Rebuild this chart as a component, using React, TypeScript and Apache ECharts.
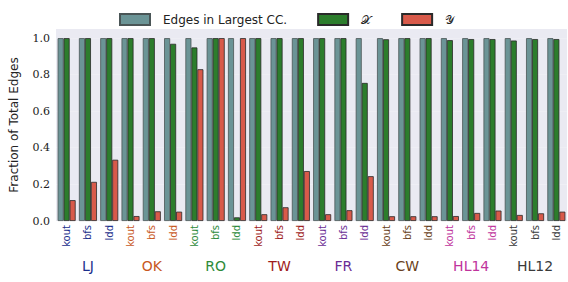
import React, { useEffect, useRef } from "react";
import * as echarts from "echarts";

const groups = ["LJ", "OK", "RO", "TW", "FR", "CW", "HL14", "HL12"];
const groupColors = ["#1c2f8c", "#c8581e", "#2e8b3a", "#9e1c1c", "#6b2d94", "#6a3f20", "#c0339c", "#3a3a3a"];
const methods = ["kout", "bfs", "ldd"];
const categories: string[] = [];
groups.forEach((g) => methods.forEach((m) => categories.push(g + "|" + m)));

const lccValues = [1, 1, 1, 1, 1, 1, 1, 1, 1, 1, 1, 1, 1, 1, 1, 1, 1, 1, 1, 1, 1, 1, 1, 1];
const xValues = [1, 1, 1, 1, 1, 0.969, 0.949, 1, 0.02, 1, 1, 1, 1, 1, 0.755, 0.994, 1, 1, 0.989, 0.995, 0.995, 0.987, 0.995, 0.995];
const yValues = [0.114, 0.214, 0.335, 0.027, 0.053, 0.051, 0.83, 1, 1, 0.037, 0.075, 0.273, 0.037, 0.059, 0.245, 0.026, 0.026, 0.026, 0.027, 0.044, 0.057, 0.033, 0.042, 0.051];
const yTicks = [0, 0.2, 0.4, 0.6, 0.8, 1.0];

export default function App() {
  const ref = useRef<HTMLDivElement>(null);
  useEffect(() => {
    if (!ref.current) return;
    const chart = echarts.init(ref.current, null, { renderer: "svg" });
    const rich: any = {};
    groupColors.forEach((c, i) => {
      rich["g" + i] = { color: c, fontSize: 10, fontFamily: "DejaVu Sans" };
      rich["h" + i] = { color: c, fontSize: 14, fontFamily: "DejaVu Sans" };
    });
    const barBase = { type: "bar", barWidth: 6, barGap: "0%", barCategoryGap: "15%" };
    chart.setOption({
      animation: false,
      backgroundColor: "#ffffff",
      grid: { left: 54, right: 1, top: 29, bottom: 61 },
      legend: {
        left: 114,
        top: 8,
        itemWidth: 30,
        itemHeight: 11,
        itemGap: 30,
        icon: "rect",
        textStyle: { fontSize: 12, fontFamily: "DejaVu Sans", color: "#222", padding: [0, 0, 0, 8] },
        data: ["Edges in Largest CC.", "𝒳", "𝒴"],
      },
      xAxis: [
        {
          type: "category",
          data: categories,
          axisLine: { show: false },
          axisTick: { show: false },
          axisLabel: {
            interval: 0,
            rotate: 90,
            margin: 4,
            formatter: (v: string) => {
              const [g, m] = v.split("|");
              return "{g" + groups.indexOf(g) + "|" + m + "}";
            },
            rich,
          },
        },
        {
          type: "category",
          data: groups,
          position: "bottom",
          offset: 30,
          axisLine: { show: false },
          axisTick: { show: false },
          axisLabel: {
            interval: 0,
            formatter: (v: string) => "{h" + groups.indexOf(v) + "|" + v + "}",
            rich,
          },
        },
      ],
      yAxis: {
        type: "value",
        min: 0,
        max: 1.05,
        interval: 0.2,
        name: "Fraction of Total Edges",
        nameLocation: "middle",
        nameGap: 36,
        nameTextStyle: { fontSize: 12, fontFamily: "DejaVu Sans", color: "#222" },
        axisLine: { show: false },
        axisTick: { show: false },
        splitLine: { show: false },
        axisLabel: {
          fontSize: 11,
          fontFamily: "DejaVu Serif",
          color: "#222",
          margin: 6,
          formatter: (v: number) => {
            const t = yTicks.find((k) => Math.abs(k - v) < 1e-6);
            return t === undefined ? "" : t.toFixed(1);
          },
        },
        splitArea: { show: true, areaStyle: { color: ["#eaeaf2", "#eaeaf2"] } },
      },
      series: [
        {
          ...barBase,
          name: "Edges in Largest CC.",
          data: lccValues,
          itemStyle: { color: "#6b9496", borderColor: "#4a5556", borderWidth: 0.8 },
        },
        {
          ...barBase,
          name: "𝒳",
          data: xValues,
          itemStyle: { color: "#2c7d2c", borderColor: "#2a2a2a", borderWidth: 0.8 },
        },
        {
          ...barBase,
          name: "𝒴",
          data: yValues,
          itemStyle: { color: "#d85a4a", borderColor: "#2a2a2a", borderWidth: 0.8 },
        },
      ],
    });
    return () => chart.dispose();
  }, []);
  return <div ref={ref} style={{ width: 568, height: 282, position: "absolute", left: 0, top: 0 }} />;
}
